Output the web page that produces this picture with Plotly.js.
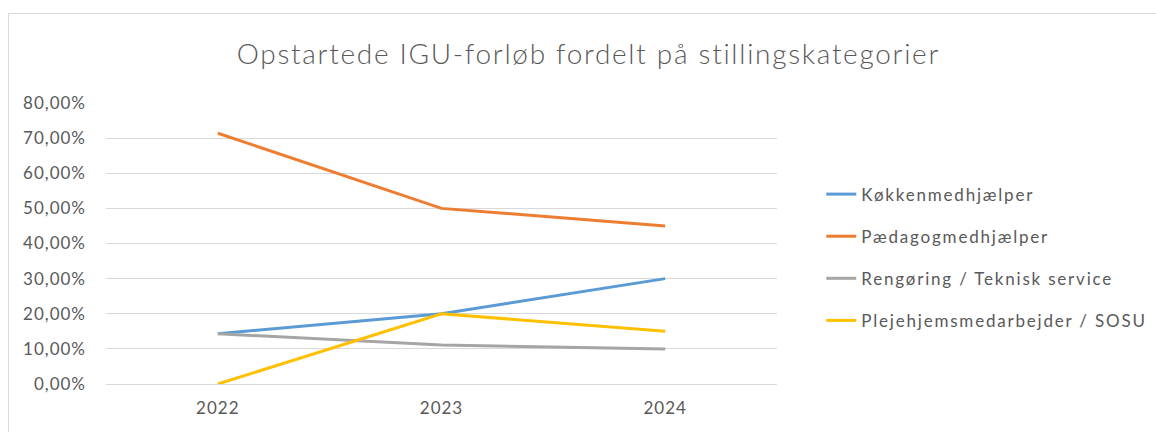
<!DOCTYPE html>
<html>
<head>
<meta charset="utf-8">
<script src="https://cdn.plot.ly/plotly-3.0.1.min.js"></script>
<style>
  html, body { margin: 0; padding: 0; background: #fff; }
  #wrap { position: relative; width: 1156px; height: 432px; overflow: hidden; }
  #chart { position: absolute; left: 0; top: 0; width: 1156px; height: 432px; }
  #frame { position: absolute; left: 8px; top: 13px; width: 1200px; height: 500px;
           border: 1.5px solid #d9d9d9; box-sizing: border-box; pointer-events: none; }
  #chart .gtitle { letter-spacing: 1.7px; }
  #chart .xtick text, #chart .ytick text { letter-spacing: 1px; }
  #chart .legendtext { letter-spacing: 1.8px; }
  #chart .legend .scrollbox { clip-path: none !important; }
  #chart svg.main-svg { overflow: visible; }
</style>
</head>
<body>
<div id="wrap">
  <div id="chart"></div>
  <div id="frame"></div>
</div>
<script>
const years = ["2022", "2023", "2024"];
const seriesNames = ["Køkkenmedhjælper", "Pædagogmedhjælper", "Rengøring / Teknisk service", "Plejehjemsmedarbejder / SOSU"];
const kokken = [0.143, 0.20, 0.30];
const paedagog = [0.714, 0.50, 0.45];
const rengoring = [0.143, 0.111, 0.10];
const plejehjem = [0.0, 0.20, 0.15];
const yTicks = [0, 0.1, 0.2, 0.3, 0.4, 0.5, 0.6, 0.7, 0.8];

const colors = ["#5B9BD5", "#ED7D31", "#A5A5A5", "#FFC000"];
const values = [kokken, paedagog, rengoring, plejehjem];

const traces = values.map((v, i) => ({
  x: years,
  y: v,
  name: seriesNames[i],
  type: "scatter",
  mode: "lines",
  line: { color: colors[i], width: 3 },
  legendgroup: "g" + i,
  hoverinfo: "skip"
}));

const fontFam = "Lato, 'Open Sans', sans-serif";

const layout = {
  width: 1156,
  height: 432,
  margin: { l: 106, r: 379, t: 103, b: 48 },
  paper_bgcolor: "#ffffff",
  plot_bgcolor: "#ffffff",
  separators: ",.",
  title: {
    text: "Opstartede IGU-forløb fordelt på stillingskategorier",
    font: { family: fontFam, size: 28, color: "#595959", weight: 300 },
    x: 0.509, xref: "container", xanchor: "center",
    y: 0.875, yref: "container", yanchor: "middle"
  },
  xaxis: {
    type: "category",
    range: [-0.5, 2.5],
    showgrid: false,
    zeroline: false,
    showline: false,
    ticks: "",
    ticklabelstandoff: 12,
    tickfont: { family: fontFam, size: 17, color: "#595959" },
    fixedrange: true
  },
  yaxis: {
    range: [0, 0.8],
    tickvals: yTicks,
    tickformat: ".2%",
    showgrid: true,
    gridcolor: "#d9d9d9",
    gridwidth: 1,
    zeroline: true,
    zerolinecolor: "#d9d9d9",
    zerolinewidth: 1,
    showline: false,
    ticks: "",
    ticklabelstandoff: 19,
    tickfont: { family: fontFam, size: 17, color: "#595959" },
    fixedrange: true
  },
  showlegend: true,
  legend: {
    x: 1.066, xanchor: "left",
    y: 0.45, yanchor: "middle",
    traceorder: "grouped",
    tracegroupgap: 17,
    font: { family: fontFam, size: 17, color: "#595959" },
    bgcolor: "rgba(0,0,0,0)"
  }
};

Plotly.newPlot("chart", traces, layout, { displayModeBar: false, staticPlot: true });
</script>
</body>
</html>
